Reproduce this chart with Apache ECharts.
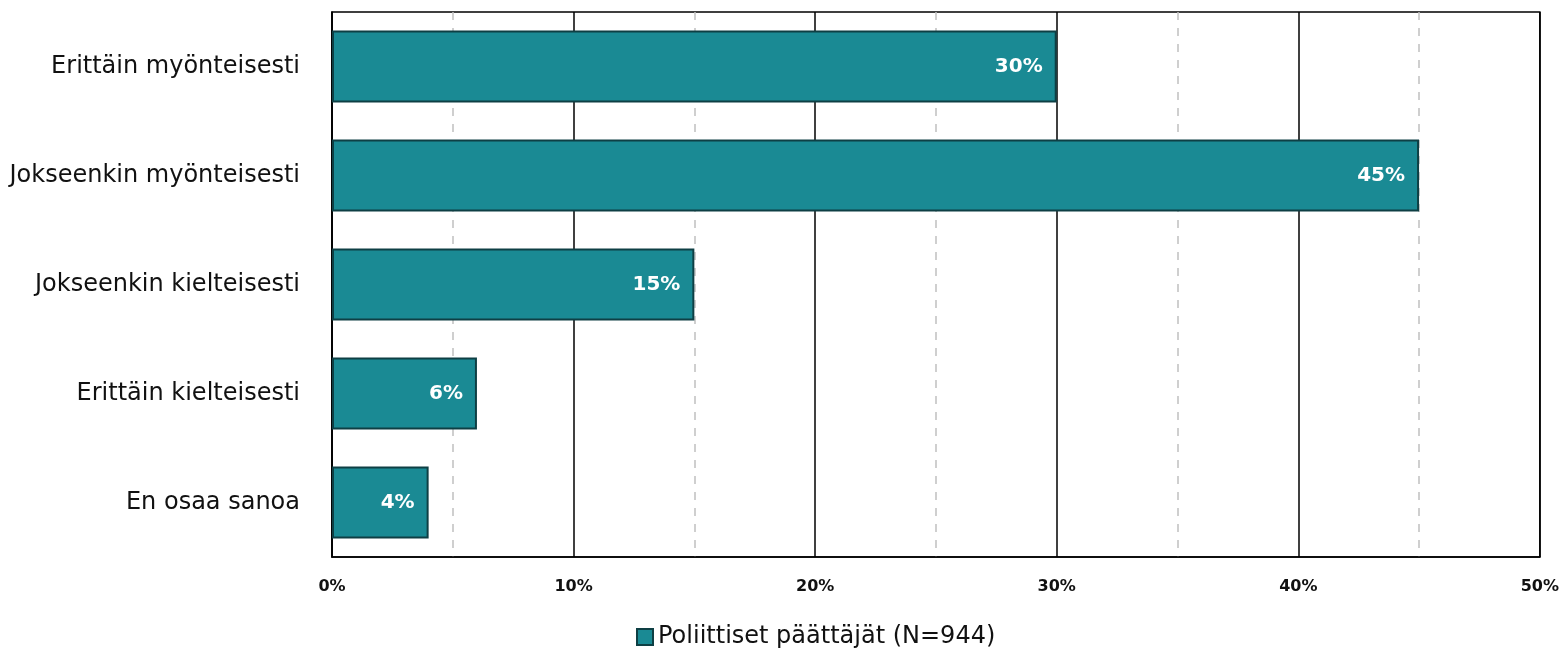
<!DOCTYPE html>
<html><head><meta charset="utf-8">
<script src="https://cdn.jsdelivr.net/npm/echarts@6/dist/echarts.min.js"></script>
<style>html,body{margin:0;padding:0;background:#fff}#c{width:1562px;height:649px}</style>
</head><body><div id="c"></div>
<script>
const categories = ["Erittäin myönteisesti","Jokseenkin myönteisesti","Jokseenkin kielteisesti","Erittäin kielteisesti","En osaa sanoa"];
const values = [30,45,15,6,4];
const seriesName = "Poliittiset päättäjät (N=944)";
const chart = echarts.init(document.getElementById('c'));
const font = "'DejaVu Sans', 'Noto Sans', sans-serif";
chart.setOption({
  animation:false,
  textStyle:{fontFamily:font},
  grid:{left:332,right:22,top:12,bottom:92,show:true,borderColor:'#000',borderWidth:1.5,containLabel:false},
  legend:{bottom:0,left:631,icon:'rect',itemWidth:16,itemHeight:16,itemGap:5,padding:[5,5,0,5],
    textStyle:{fontSize:24,color:'#111',fontFamily:font},data:[seriesName]},
  xAxis:{type:'value',min:0,max:50,interval:10,
    axisLabel:{formatter:'{value}%',fontSize:16,fontWeight:'bold',color:'#111',margin:22,fontFamily:font},
    axisLine:{show:true,lineStyle:{color:'#000',width:1.5}},axisTick:{show:false},
    splitLine:{show:true,lineStyle:{color:'#000',width:1.5}},
    minorTick:{show:false,splitNumber:2},
    minorSplitLine:{show:true,lineStyle:{color:'#c0c0c0',width:1.5,type:[8,8]}}},
  yAxis:{type:'category',data:categories,inverse:true,
    axisLabel:{fontSize:24,color:'#111',margin:32,fontFamily:font},
    axisLine:{show:true,lineStyle:{color:'#000',width:1.5}},axisTick:{show:false}},
  series:[{name:seriesName,type:'bar',data:values,barCategoryGap:'34%',
    itemStyle:{color:'#1a8a94',borderColor:'#0e3f44',borderWidth:2},
    label:{show:true,position:'insideRight',formatter:'{c}%',color:'#fff',fontWeight:'bold',fontSize:20,distance:14,fontFamily:font}}]
});
</script></body></html>
